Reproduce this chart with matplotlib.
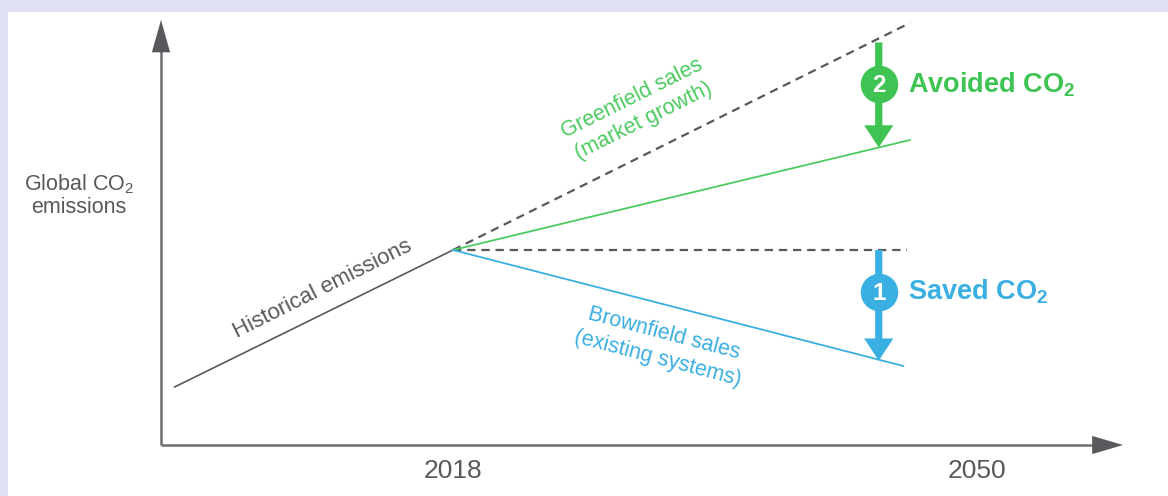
import matplotlib
matplotlib.use("Agg")
import matplotlib.pyplot as plt
from matplotlib.patches import Rectangle
import numpy as np

plt.rcParams['font.family'] = ['Liberation Sans', 'DejaVu Sans']
plt.rcParams['mathtext.fontset'] = 'custom'
plt.rcParams['mathtext.rm'] = 'Liberation Sans'
plt.rcParams['mathtext.it'] = 'Liberation Sans:italic'
plt.rcParams['mathtext.bf'] = 'Liberation Sans:bold'
plt.rcParams['lines.scale_dashes'] = False

# ---- data (arbitrary emission units) ----
hist_years = [2001, 2018]
hist_values = [5.8, 19.5]
proj_years = [2018, 2045.9]
bau_values = [19.5, 42.2]          # dashed: business as usual
greenfield_values = [19.5, 30.5]   # green: greenfield sales
flat_years = [2018, 2045.7]
flat_values = [19.5, 19.5]         # dashed: flat reference
brown_years = [2018, 2045.5]
brown_values = [19.5, 7.9]         # blue: brownfield sales
arrow_year = 2044
tick_years = [2018, 2050]
tick_labels = ['2018', '2050']

GREEN = '#3fc453'
GREEN_LINE = '#4ccb60'
BLUE = '#3aafe2'
DARK = '#58595c'
AXIS = '#6e6f73'

W, H = 1168, 496
fig = plt.figure(figsize=(W / 100, H / 100), dpi=100)
fig.patch.set_facecolor('#dfe0f2')
fig.add_artist(Rectangle((8 / W, 0), 1, (H - 12) / H, transform=fig.transFigure,
                         facecolor='white', edgecolor='none', zorder=0))

ax = fig.add_axes([0, 0, 1, 1])
ax.set_facecolor('none')
ppy = 16.375  # px per year
ax.set_xlim(2018 - 453 / ppy, 2018 + (W - 453) / ppy)
ax.set_ylim((445 - H) / 10, 445 / 10)
ax.axis('off')

# axes arrows
x0 = 2018 - 292 / ppy
x_end = 2018 + 670 / ppy
y_top = 42.5
ax.plot([x0, x0], [0, y_top - 2.5], color=AXIS, lw=1.8, solid_capstyle='butt', zorder=2)
ax.plot([x0, x_end - 25 / ppy], [0, 0], color=AXIS, lw=1.8, solid_capstyle='butt', zorder=2)
ax.annotate('', xy=(x0, y_top), xytext=(x0, y_top - 3.3),
            arrowprops=dict(arrowstyle='-|>,head_length=2.3,head_width=0.65',
                            mutation_scale=10, color=DARK, lw=0.1,
                            shrinkA=0, shrinkB=0), zorder=3)
ax.annotate('', xy=(x_end, 0), xytext=(x_end - 31 / ppy, 0),
            arrowprops=dict(arrowstyle='-|>,head_length=2.2,head_width=0.65',
                            mutation_scale=10, color=DARK, lw=0.1,
                            shrinkA=0, shrinkB=0), zorder=3)

# lines
ax.plot(hist_years, hist_values, color=DARK, lw=1.2, zorder=4)
ax.plot(proj_years, bau_values, color=DARK, lw=1.6, dashes=(6, 4.2), zorder=4)
ax.plot(flat_years, flat_values, color=DARK, lw=1.6, dashes=(6, 4.2), zorder=4)
ax.plot(proj_years, greenfield_values, color=GREEN_LINE, lw=1.3, zorder=5)
ax.plot(brown_years, brown_values, color=BLUE, lw=1.3, zorder=5)

def interp(xs, ys, x):
    return float(np.interp(x, xs, ys))

g_top = interp(proj_years, bau_values, arrow_year) - 0.4
g_bot = interp(proj_years, greenfield_values, arrow_year)
b_top = interp(flat_years, flat_values, arrow_year)
b_bot = interp(brown_years, brown_values, arrow_year) - 0.1

def big_arrow(top, bot, color, num, label):
    ax.annotate('', xy=(arrow_year, bot), xytext=(arrow_year, top),
                arrowprops=dict(arrowstyle='simple,head_length=1.6,head_width=2.1,tail_width=0.52',
                                mutation_scale=10, color=color, lw=0,
                                shrinkA=0, shrinkB=0), zorder=6)
    cy = top - 4.2
    ax.plot([arrow_year], [cy], 'o', ms=27, color=color, mec='white', mew=0, zorder=7)
    ax.text(arrow_year, cy - 0.1, num, color='white', fontsize=17.5, fontweight='bold',
            ha='center', va='center', zorder=8)
    ax.annotate(label, xy=(arrow_year, cy), xytext=(21, 0), textcoords='offset points',
                color=color, fontsize=19.5, fontweight='bold', ha='left', va='center', zorder=8)

big_arrow(g_top, g_bot, GREEN, '2', r'Avoided CO$_\mathbf{2}$')
big_arrow(b_top, b_bot, BLUE, '1', r'Saved CO$_\mathbf{2}$')

# annotations along lines
ax.text(2010.05, 15.6, 'Historical emissions', color=DARK, fontsize=16,
        rotation=26.6, rotation_mode='anchor', ha='center', va='center', zorder=5)
ax.text(2029.3, 33.5, 'Greenfield sales\n(market growth)', color=GREEN_LINE, fontsize=15.5,
        rotation=26.5, rotation_mode='anchor', ha='center', va='center',
        linespacing=1.3, zorder=5)
ax.text(2030.7, 9.9, 'Brownfield sales\n(existing systems)', color=BLUE, fontsize=15.5,
        rotation=-14.7, rotation_mode='anchor', ha='center', va='center',
        linespacing=1.3, zorder=5)

# y-axis label
ax.text(2018 - 374 / ppy, 25.0, 'Global CO$_2$\nemissions', color=DARK, fontsize=15.5,
        ha='center', va='center', linespacing=1.05, zorder=5)

# tick labels
for yr, lab in zip(tick_years, tick_labels):
    ax.text(yr, -2.65, lab, color=DARK, fontsize=19, ha='center', va='center', zorder=5)

fig.savefig('out.png', dpi=100, facecolor=fig.get_facecolor())
